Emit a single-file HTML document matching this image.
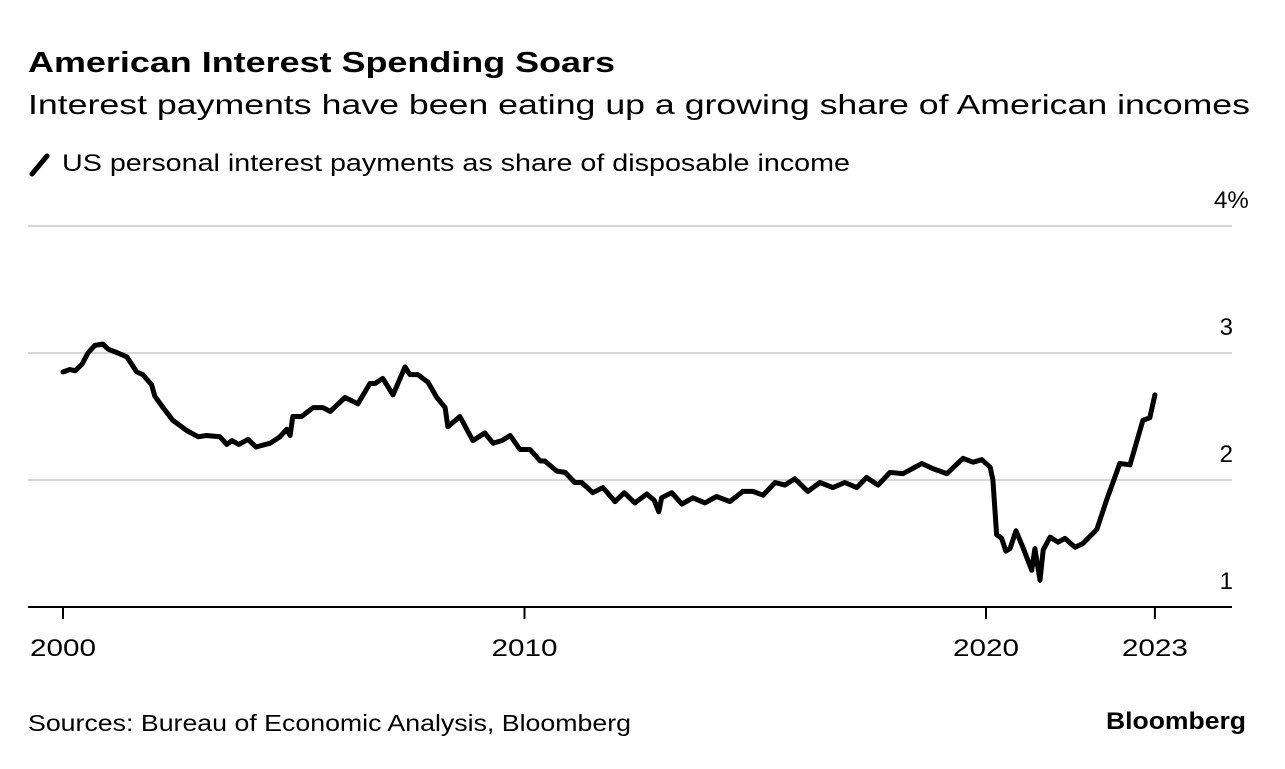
<!DOCTYPE html>
<html><head><meta charset="utf-8"><style>
body{margin:0;background:#fff;width:1285px;height:764px;overflow:hidden;font-family:"Liberation Sans",sans-serif;color:#000}
</style></head><body>
<svg id="chart" width="1285" height="764" xmlns="http://www.w3.org/2000/svg" font-family="Liberation Sans, sans-serif">
<text x="28" y="72" font-size="29" font-weight="bold" textLength="587" lengthAdjust="spacingAndGlyphs">American Interest Spending Soars</text>
<text x="28" y="114" font-size="28" textLength="1222" lengthAdjust="spacingAndGlyphs">Interest payments have been eating up a growing share of American incomes</text>
<line x1="32" y1="174" x2="47" y2="156" stroke="#000" stroke-width="5" stroke-linecap="round"/>
<text x="62" y="171" font-size="24" textLength="788" lengthAdjust="spacingAndGlyphs">US personal interest payments as share of disposable income</text>
<g id="grid"></g>
<g id="xaxis"></g>
<path id="line" fill="none" stroke="#000" stroke-width="5" stroke-linejoin="round" stroke-linecap="round"/>
<text x="28" y="731" font-size="23" textLength="603" lengthAdjust="spacingAndGlyphs">Sources: Bureau of Economic Analysis, Bloomberg</text>
<text x="1106" y="729" font-size="24" font-weight="bold" textLength="140" lengthAdjust="spacingAndGlyphs">Bloomberg</text>
</svg>
<script>
const years=[2000.0,2000.15,2000.26,2000.41,2000.54,2000.69,2000.86,2000.98,2001.19,2001.38,2001.6,2001.73,2001.92,2001.99,2002.17,2002.38,2002.68,2002.93,2003.11,2003.4,2003.55,2003.66,2003.81,2004.01,2004.18,2004.49,2004.7,2004.85,2004.92,2004.98,2005.17,2005.42,2005.63,2005.79,2006.11,2006.39,2006.65,2006.76,2006.93,2007.15,2007.41,2007.52,2007.69,2007.91,2008.1,2008.28,2008.34,2008.6,2008.88,2009.14,2009.32,2009.51,2009.69,2009.9,2010.12,2010.34,2010.44,2010.7,2010.88,2011.09,2011.24,2011.48,2011.7,2011.96,2012.16,2012.39,2012.65,2012.81,2012.91,2012.97,2013.19,2013.41,2013.65,2013.91,2014.16,2014.45,2014.73,2014.95,2015.17,2015.43,2015.64,2015.86,2016.14,2016.4,2016.68,2016.94,2017.2,2017.41,2017.66,2017.92,2018.2,2018.61,2018.85,2019.15,2019.5,2019.72,2019.91,2020.09,2020.15,2020.23,2020.34,2020.43,2020.52,2020.65,2020.8,2020.99,2021.06,2021.17,2021.24,2021.39,2021.56,2021.71,2021.93,2022.1,2022.4,2022.61,2022.9,2023.12,2023.4,2023.55,2023.66];
const values=[2.85,2.87,2.86,2.91,3.0,3.06,3.07,3.03,3.0,2.97,2.85,2.83,2.75,2.66,2.57,2.47,2.39,2.34,2.35,2.34,2.28,2.31,2.28,2.32,2.26,2.29,2.34,2.4,2.35,2.5,2.5,2.57,2.57,2.54,2.65,2.6,2.76,2.76,2.8,2.67,2.89,2.83,2.83,2.77,2.65,2.57,2.42,2.5,2.31,2.37,2.29,2.31,2.35,2.24,2.24,2.15,2.15,2.07,2.06,1.98,1.98,1.9,1.94,1.83,1.9,1.82,1.89,1.84,1.75,1.86,1.9,1.81,1.86,1.82,1.87,1.83,1.91,1.91,1.88,1.98,1.96,2.01,1.91,1.98,1.94,1.98,1.94,2.02,1.96,2.06,2.05,2.13,2.09,2.05,2.17,2.14,2.16,2.1,2.0,1.57,1.54,1.44,1.46,1.6,1.47,1.29,1.46,1.21,1.45,1.55,1.51,1.54,1.47,1.5,1.61,1.84,2.13,2.12,2.47,2.49,2.67];
const yTicks=[1,2,3,4];
const yTickLabels=["1","2","3","4%"];
const xTicks=[2000,2010,2020];
const xTickLabels=["2000","2010","2020","2023"];

const NS="http://www.w3.org/2000/svg";
const x=v=>63+(v-2000)*46.15;
const y=v=>607-(v-1)*127;
const grid=document.getElementById('grid');
yTicks.forEach((t,i)=>{
  if(t>1){
    const l=document.createElementNS(NS,'line');
    
    
    l.setAttribute('x1',28);l.setAttribute('x2',1232);
    l.setAttribute('y1',y(t));l.setAttribute('y2',y(t));
    l.setAttribute('stroke','#d6d6d6');l.setAttribute('stroke-width',2);
    grid.appendChild(l);
  }
  const tx=document.createElementNS(NS,'text');
  
  
  const isPct=yTickLabels[i].indexOf('%')>=0;
  tx.setAttribute('x',isPct?1214:1233);tx.setAttribute('y',y(t)-18);
  tx.setAttribute('text-anchor',isPct?'start':'end');tx.setAttribute('font-size','24');
  tx.textContent=yTickLabels[i];
  grid.appendChild(tx);
});
const xa=document.getElementById('xaxis');
const base=document.createElementNS(NS,'line');


base.setAttribute('x1',28);base.setAttribute('x2',1232);base.setAttribute('y1',607);base.setAttribute('y2',607);
base.setAttribute('stroke','#000');base.setAttribute('stroke-width',2);
xa.appendChild(base);
const tickPos=xTicks.concat([years[years.length-1]]);
tickPos.forEach((t,i)=>{
  const l=document.createElementNS(NS,'line');
  
  
  l.setAttribute('x1',x(t));l.setAttribute('x2',x(t));l.setAttribute('y1',607);l.setAttribute('y2',619);
  l.setAttribute('stroke','#000');l.setAttribute('stroke-width',2);
  xa.appendChild(l);
  const tx=document.createElementNS(NS,'text');
  
  
  tx.setAttribute('x',x(t)-33);tx.setAttribute('y',656);
  tx.setAttribute('font-size','24');
  tx.setAttribute('textLength','66');tx.setAttribute('lengthAdjust','spacingAndGlyphs');
  tx.textContent=xTickLabels[i];
  xa.appendChild(tx);
});
document.getElementById('line').setAttribute('d',years.map((yr,i)=>(i?'L':'M')+x(yr).toFixed(1)+','+y(values[i]).toFixed(1)).join(''));
</script>
</body></html>
